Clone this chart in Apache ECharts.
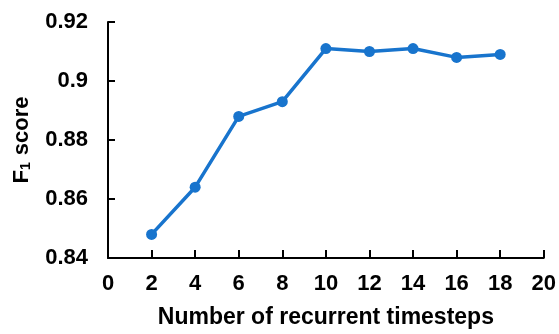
<!DOCTYPE html>
<html><head><meta charset="utf-8">
<script src="https://cdn.jsdelivr.net/npm/echarts@6/dist/echarts.min.js"></script>
<style>html,body{margin:0;padding:0;background:#fff}#c{width:559px;height:334px}</style>
</head><body><div id="c"></div>
<script>
const timesteps = [2, 4, 6, 8, 10, 12, 14, 16, 18];
const f1Scores = [0.848, 0.864, 0.888, 0.893, 0.911, 0.910, 0.911, 0.908, 0.909];
const xTitle = 'Number of recurrent timesteps';
const yTitle = 'F{sub|1} score';

const font = 'Arial';
const chart = echarts.init(document.getElementById('c'), null, {renderer: 'canvas'});
chart.setOption({
  animation: false,
  grid: {left: 108, right: 13, top: 22, bottom: 72},
  xAxis: {
    type: 'value', min: 0, max: 20, interval: 2,
    name: xTitle, nameLocation: 'middle', nameGap: 48,
    nameTextStyle: {fontFamily: font, fontWeight: 'bold', fontSize: 23, color: '#000'},
    axisLine: {lineStyle: {color: '#000', width: 2}},
    axisTick: {inside: true, length: 8, lineStyle: {color: '#000', width: 2}},
    axisLabel: {fontFamily: font, fontWeight: 'bold', fontSize: 22, color: '#000', margin: 15},
    splitLine: {show: false}
  },
  yAxis: {
    type: 'value', min: 0.84, max: 0.92, interval: 0.02,
    name: yTitle, nameLocation: 'middle', nameGap: 75,
    nameTextStyle: {fontFamily: font, fontWeight: 'bold', fontSize: 22, color: '#000',
      rich: {sub: {fontFamily: font, fontWeight: 'bold', fontSize: 14, color: '#000', verticalAlign: 'bottom', padding: [9, 1, 0, 0]}}},
    axisLine: {lineStyle: {color: '#000', width: 2}},
    axisTick: {inside: true, length: 7, lineStyle: {color: '#000', width: 2}},
    axisLabel: {fontFamily: font, fontWeight: 'bold', fontSize: 22, color: '#000', margin: 20,
      formatter: v => String(parseFloat(v.toFixed(2)))},
    splitLine: {show: false}
  },
  series: [{
    type: 'line',
    data: timesteps.map((t, i) => [t, f1Scores[i]]),
    symbol: 'circle', symbolSize: 11,
    lineStyle: {color: '#1874CD', width: 3.5},
    itemStyle: {color: '#1874CD'}
  }]
});
</script></body></html>
